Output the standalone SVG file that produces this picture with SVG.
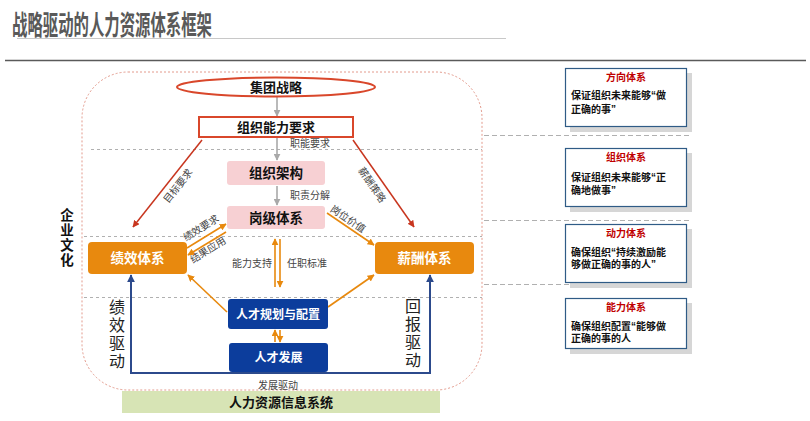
<svg xmlns="http://www.w3.org/2000/svg" width="810" height="421" viewBox="0 0 810 421">
<style>
text{font-family:"Liberation Sans","Noto Sans CJK SC",sans-serif}
.b{font-weight:bold}
.lbl{font-size:10px;fill:#444}
.box{fill:#fff;stroke:#2f5b86;stroke-width:1.2}
.shd{fill:#d6d6d6}
.bt{font-size:10px;font-weight:bold;fill:#c00000}
.bd{font-size:10px;font-weight:bold;fill:#111}
.gd{stroke:#b0b0b0;stroke-width:1;stroke-dasharray:3 3;fill:none}
.gd2{stroke:#b0b0b0;stroke-width:1;stroke-dasharray:5 3;fill:none}
.pink{fill:#f7d0d3}
.org{fill:#e8890e}
.blu{fill:#0c3d9c}
.ag{stroke:#a9a9a9;stroke-width:1.6;fill:none}
.ar{stroke:#c8361f;stroke-width:1.5;fill:none}
.ao{stroke:#e8890e;stroke-width:1.6;fill:none}
.ab{stroke:#2c4a8c;stroke-width:2;fill:none}
.vt{font-size:16px;fill:#222}
</style>
<defs>
<marker id="mg" viewBox="0 0 10 10" refX="9" refY="5" markerWidth="7" markerHeight="7" markerUnits="userSpaceOnUse" orient="auto"><path d="M0,0 L10,5 L0,10 z" fill="#a9a9a9"/></marker>
<marker id="mr" viewBox="0 0 10 10" refX="9" refY="5" markerWidth="7" markerHeight="7" markerUnits="userSpaceOnUse" orient="auto"><path d="M0,0 L10,5 L0,10 z" fill="#c8361f"/></marker>
<marker id="mo" viewBox="0 0 10 10" refX="9" refY="5" markerWidth="7" markerHeight="7" markerUnits="userSpaceOnUse" orient="auto"><path d="M0,0 L10,5 L0,10 z" fill="#e8890e"/></marker>
<marker id="mb" viewBox="0 0 10 10" refX="9" refY="5" markerWidth="8" markerHeight="8" markerUnits="userSpaceOnUse" orient="auto"><path d="M0,0 L10,5 L0,10 z" fill="#2c4a8c"/></marker>
</defs>
<rect width="810" height="421" fill="#fff"/>
<!-- title -->
<g id="title">
<text x="12" y="35" font-size="27" class="b" fill="#595959" textLength="200" lengthAdjust="spacingAndGlyphs">战略驱动的人力资源体系框架</text>
<line x1="17" y1="38.5" x2="506" y2="38.5" stroke="#c8c8c8" stroke-width="1"/>
<line x1="5" y1="60.5" x2="806" y2="60.5" stroke="#5a5a5a" stroke-width="1.5"/>
</g>
<!-- frame -->
<g id="frame">
<rect x="82" y="72" width="400" height="318" rx="46" ry="46" fill="none" stroke="#e39a8c" stroke-width="1" stroke-dasharray="2 2"/>
<line class="gd" x1="91" y1="149.5" x2="482" y2="149.5"/>
<line class="gd" x1="84" y1="236.5" x2="482" y2="236.5"/>
<line class="gd" x1="84" y1="297.5" x2="482" y2="297.5"/>
<line class="gd2" x1="484" y1="135.5" x2="690" y2="135.5"/>
<line class="gd2" x1="484" y1="220.5" x2="690" y2="220.5"/>
<line class="gd2" x1="484" y1="284.5" x2="690" y2="284.5"/>
</g>
<!-- culture -->
<g id="culture" class="b" font-size="13.5" fill="#111" text-anchor="middle">
<text x="67" y="220">企</text>
<text x="67" y="235">业</text>
<text x="67" y="250">文</text>
<text x="67" y="265">化</text>
</g>
<!-- connectors -->
<g id="connectors">
<line class="ag" x1="277" y1="97" x2="277" y2="116" marker-end="url(#mg)"/>
<line class="ag" x1="277" y1="138" x2="277" y2="160" marker-end="url(#mg)"/>
<line class="ag" x1="277" y1="186" x2="277" y2="205" marker-end="url(#mg)"/>
<line class="ar" x1="202" y1="140" x2="133" y2="227" marker-end="url(#mr)"/>
<line class="ar" x1="353" y1="140" x2="414" y2="227" marker-end="url(#mr)"/>
<line class="ao" x1="187" y1="248" x2="226" y2="224" marker-end="url(#mo)"/>
<line class="ao" x1="226" y1="232" x2="188" y2="255" marker-end="url(#mo)"/>
<line class="ao" x1="327" y1="213" x2="374" y2="245" marker-end="url(#mo)"/>
<line class="ao" x1="275" y1="287" x2="275" y2="239" marker-end="url(#mo)"/>
<line class="ao" x1="280" y1="239" x2="280" y2="287" marker-end="url(#mo)"/>
<line class="ao" x1="275" y1="342" x2="275" y2="330" marker-end="url(#mo)"/>
<line class="ao" x1="280" y1="330" x2="280" y2="342" marker-end="url(#mo)"/>
<line class="ao" x1="227" y1="312" x2="188" y2="275" marker-end="url(#mo)"/>
<line class="ao" x1="328" y1="307" x2="374" y2="275" marker-end="url(#mo)"/>
<polyline class="ab" points="131,373 430,373"/>
<line class="ab" x1="131" y1="374" x2="131" y2="275" marker-end="url(#mb)"/>
<line class="ab" x1="430" y1="374" x2="430" y2="275" marker-end="url(#mb)"/>
<text class="lbl" x="290" y="147">职能要求</text>
<text class="lbl" x="290" y="199">职责分解</text>
<text class="lbl" text-anchor="middle" dominant-baseline="central" transform="translate(178,186) rotate(-51.6)">目标要求</text>
<text class="lbl" text-anchor="middle" dominant-baseline="central" transform="translate(372,185) rotate(55)">薪酬策略</text>
<text class="lbl" text-anchor="middle" dominant-baseline="central" transform="translate(201,228) rotate(-32)">绩效要求</text>
<text class="lbl" text-anchor="middle" dominant-baseline="central" transform="translate(208,250) rotate(-32)">结果应用</text>
<text class="lbl" text-anchor="middle" dominant-baseline="central" transform="translate(348,219) rotate(34)">岗位价值</text>
<text class="lbl" x="232" y="267">能力支持</text>
<text class="lbl" x="287" y="267">任职标准</text>
<text class="lbl" x="278" y="389" text-anchor="middle" font-size="11">发展驱动</text>
<g class="vt" text-anchor="middle">
<text x="117" y="313">绩</text><text x="117" y="331">效</text><text x="117" y="349">驱</text><text x="117" y="367">动</text>
<text x="413" y="312">回</text><text x="413" y="330">报</text><text x="413" y="348">驱</text><text x="413" y="366">动</text>
</g>
</g>
<!-- nodes -->
<g id="strategy">
<ellipse cx="276" cy="87" rx="99" ry="9.5" fill="#fff" stroke="#d9472b" stroke-width="2"/>
<text x="276" y="92" text-anchor="middle" font-size="13" class="b" fill="#111">集团战略</text>
</g>
<g id="capability">
<rect x="199" y="117" width="154" height="20" fill="#fff" stroke="#d9472b" stroke-width="2"/>
<text x="276" y="132" text-anchor="middle" font-size="13" class="b" fill="#111">组织能力要求</text>
</g>
<g id="org">
<rect class="pink" x="227" y="161" width="98" height="24" rx="3"/>
<text x="276" y="178" text-anchor="middle" font-size="13.5" class="b" fill="#111">组织架构</text>
</g>
<g id="grade">
<rect class="pink" x="227" y="206" width="98" height="23" rx="3"/>
<text x="276" y="223" text-anchor="middle" font-size="13.5" class="b" fill="#111">岗级体系</text>
</g>
<g id="perf">
<rect class="org" x="88" y="242" width="99" height="32" rx="4"/>
<text x="137.5" y="263" text-anchor="middle" font-size="13.5" class="b" fill="#fff">绩效体系</text>
</g>
<g id="comp">
<rect class="org" x="375" y="242" width="99" height="32" rx="4"/>
<text x="424.5" y="263" text-anchor="middle" font-size="13.5" class="b" fill="#fff">薪酬体系</text>
</g>
<g id="talentplan">
<rect class="blu" x="228" y="299" width="100" height="30" rx="3"/>
<text x="278" y="319" text-anchor="middle" font-size="12" class="b" fill="#fff">人才规划与配置</text>
</g>
<g id="talentdev">
<rect class="blu" x="229" y="343" width="99" height="29" rx="3"/>
<text x="278.5" y="362" text-anchor="middle" font-size="12" class="b" fill="#fff">人才发展</text>
</g>
<g id="hris">
<rect x="122" y="391" width="318" height="22" fill="#d7e4b5"/>
<text x="281" y="407" text-anchor="middle" font-size="13" class="b" fill="#111">人力资源信息系统</text>
</g>
<!-- right panels -->
<g id="p1">
<rect class="shd" x="570" y="73" width="122" height="59"/>
<rect class="box" x="565.5" y="68.5" width="121" height="58"/>
<text class="bt" x="626" y="81" text-anchor="middle">方向体系</text>
<text class="bd" x="571" y="99">保证组织未来能够“做</text>
<text class="bd" x="571" y="113">正确的事”</text>
</g>
<g id="p2">
<rect class="shd" x="570" y="153" width="122" height="59"/>
<rect class="box" x="565.5" y="148.5" width="121" height="58"/>
<text class="bt" x="626" y="161" text-anchor="middle">组织体系</text>
<text class="bd" x="571" y="181">保证组织未来能够“正</text>
<text class="bd" x="571" y="194">确地做事”</text>
</g>
<g id="p3">
<rect class="shd" x="570" y="229" width="122" height="59"/>
<rect class="box" x="565.5" y="224.5" width="121" height="58"/>
<text class="bt" x="626" y="237" text-anchor="middle">动力体系</text>
<text class="bd" x="571" y="256">确保组织“持续激励能</text>
<text class="bd" x="571" y="268">够做正确的事的人”</text>
</g>
<g id="p4">
<rect class="shd" x="570" y="303" width="122" height="51"/>
<rect class="box" x="565.5" y="298.5" width="121" height="50"/>
<text class="bt" x="626" y="311" text-anchor="middle">能力体系</text>
<text class="bd" x="571" y="330">确保组织配置“能够做</text>
<text class="bd" x="571" y="342">正确的事的人</text>
</g>
</svg>
